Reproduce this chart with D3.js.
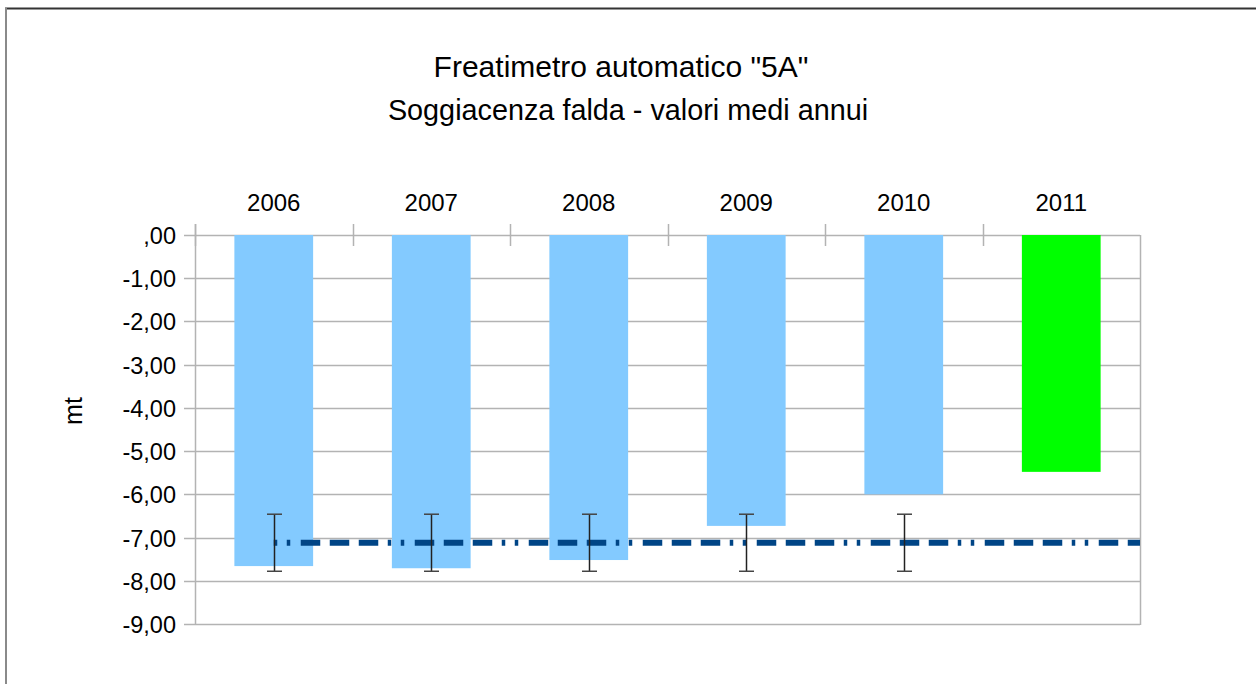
<!DOCTYPE html>
<html>
<head>
<meta charset="utf-8">
<script src="https://cdn.jsdelivr.net/npm/d3@7"></script>
<style>
  html, body { margin: 0; padding: 0; background: #fff; }
  svg { display: block; font-family: "Liberation Sans", Arial, sans-serif; }
</style>
</head>
<body>
<svg id="chart" width="1256" height="684"></svg>
<script>
// Data
const years = ['2006', '2007', '2008', '2009', '2010', '2011'];
const depth = [-7.66, -7.71, -7.52, -6.73, -6.00, -5.48];
const meanYears = ['2006', '2007', '2008', '2009', '2010'];
const meanDepth = -7.12;
const stdDev = 0.66;
const yTicks = [0, -1, -2, -3, -4, -5, -6, -7, -8, -9];

const W = 1256, H = 684;
const plot = { left: 195, right: 1140, top: 235, bottom: 624 };

const svg = d3.select('#chart');

// Outer frame
svg.append('line').attr('x1', 5).attr('x2', W).attr('y1', 8.5).attr('y2', 8.5)
  .attr('stroke', '#333').attr('stroke-width', 2);
svg.append('line').attr('x1', 6).attr('x2', 6).attr('y1', 8).attr('y2', H)
  .attr('stroke', '#8a8a8a').attr('stroke-width', 2);

// Titles
svg.append('text').attr('x', 621).attr('y', 77).attr('text-anchor', 'middle')
  .attr('font-size', 30).attr('fill', '#000').text('Freatimetro automatico "5A"');
svg.append('text').attr('x', 628).attr('y', 119.5).attr('text-anchor', 'middle')
  .attr('font-size', 28.8).attr('fill', '#000').text('Soggiacenza falda - valori medi annui');

// Scales
const x = d3.scaleBand().domain(years).range([plot.left, plot.right]).paddingInner(0).paddingOuter(0);
const y = d3.scaleLinear().domain([0, -9]).range([plot.top, plot.bottom]);

// Grid lines
svg.append('g').selectAll('line').data(yTicks).join('line')
  .attr('x1', plot.left - 11).attr('x2', plot.right)
  .attr('y1', (d) => Math.round(y(d)) + 0.5).attr('y2', (d) => Math.round(y(d)) + 0.5)
  .attr('stroke', '#b3b3b3').attr('stroke-width', 1.5);

// Right border of plot
svg.append('line').attr('x1', plot.right + 0.5).attr('x2', plot.right + 0.5)
  .attr('y1', plot.top).attr('y2', plot.bottom + 1)
  .attr('stroke', '#b3b3b3').attr('stroke-width', 1.5);

// Category ticks (cross the top axis)
const bounds = years.map((d) => x(d));
svg.append('g').selectAll('line').data(bounds).join('line')
  .attr('x1', (d) => Math.round(d) + 0.5).attr('x2', (d) => Math.round(d) + 0.5)
  .attr('y1', plot.top - 11).attr('y2', plot.top + 11)
  .attr('stroke', '#b3b3b3').attr('stroke-width', 1.5);

// Left axis line
svg.append('line').attr('x1', plot.left + 0.5).attr('x2', plot.left + 0.5)
  .attr('y1', plot.top - 11).attr('y2', plot.bottom + 1)
  .attr('stroke', '#b3b3b3').attr('stroke-width', 1.5);

// Bars
const barW = x.bandwidth() * 0.5;
svg.append('g').selectAll('rect').data(years).join('rect')
  .attr('x', (d) => x(d) + (x.bandwidth() - barW) / 2)
  .attr('y', y(0))
  .attr('width', barW)
  .attr('height', (d, i) => y(depth[i]) - y(0))
  .attr('fill', (d, i) => (i === years.length - 1 ? '#00ff00' : '#83caff'));

// Mean line (dash-dot-dot pattern)
const cx = (d) => x(d) + x.bandwidth() / 2;
svg.append('line')
  .attr('x1', cx(years[0])).attr('x2', plot.right)
  .attr('y1', y(meanDepth)).attr('y2', y(meanDepth))
  .attr('stroke', '#004586').attr('stroke-width', 6)
  .attr('stroke-dasharray', '3.5,9.5,3.5,10.5,19.5,9.5,19.5,9.5,19.5,9.5');

// Error bars
const eb = svg.append('g');
meanYears.forEach((d) => {
  const xc = Math.round(cx(d)) + 0.5;
  eb.append('line').attr('x1', xc).attr('x2', xc)
    .attr('y1', y(meanDepth + stdDev)).attr('y2', y(meanDepth - stdDev))
    .attr('stroke', '#222').attr('stroke-width', 1.5);
  [meanDepth + stdDev, meanDepth - stdDev].forEach((v) => {
    eb.append('line').attr('x1', xc - 7.5).attr('x2', xc + 7.5)
      .attr('y1', y(v)).attr('y2', y(v))
      .attr('stroke', '#444').attr('stroke-width', 1.5);
  });
});

// Category labels (top)
svg.append('g').selectAll('text').data(years).join('text')
  .attr('x', (d) => cx(d)).attr('y', 211)
  .attr('text-anchor', 'middle').attr('font-size', 24).attr('fill', '#000')
  .text((d) => d);

// Y tick labels
const fmt = (v) => {
  const s = d3.format('.2f')(Math.abs(v)).replace('.', ',');
  const t = s.startsWith('0') ? s.slice(1) : s;
  return (v < 0 ? '-' : '') + t;
};
svg.append('g').selectAll('text').data(yTicks).join('text')
  .attr('x', 176).attr('y', (d) => y(d) + 9)
  .attr('text-anchor', 'end').attr('font-size', 23.5).attr('fill', '#000')
  .text(fmt);

// Y axis title
svg.append('text')
  .attr('transform', 'translate(82,411) rotate(-90)')
  .attr('text-anchor', 'middle').attr('font-size', 25).attr('fill', '#000')
  .text('mt');
</script>
</body>
</html>
